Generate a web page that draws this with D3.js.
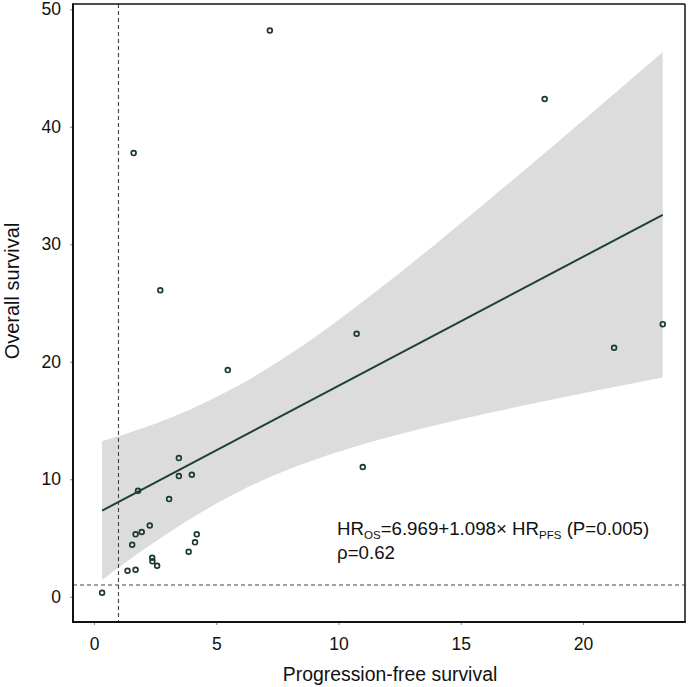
<!DOCTYPE html>
<html>
<head>
<meta charset="utf-8">
<script src="https://cdn.jsdelivr.net/npm/d3@7"></script>
<style>
  html, body { margin: 0; padding: 0; background: #fff; }
  svg { display: block; font-family: "Liberation Sans", Arial, Helvetica, sans-serif; }
</style>
</head>
<body>
<svg id="chart" width="691" height="687"></svg>
<script>
// ---- data ----
const pfs = [0.33, 1.37, 1.70, 1.56, 1.70, 1.95, 1.80, 2.28, 2.38, 2.39, 2.58, 3.07, 3.47, 3.47,
             4.00, 3.87, 4.13, 4.20, 1.62, 2.71, 5.47, 7.19, 10.74, 10.99, 18.43, 21.27, 23.26];
const os  = [0.34, 2.21, 2.30, 4.43, 5.31, 5.51, 9.02, 6.06, 3.32, 3.01, 2.64, 8.31, 11.80, 10.27,
             10.38, 3.83, 4.63, 5.31, 37.76, 26.08, 19.29, 48.20, 22.38, 11.04, 42.36, 21.19, 23.20];

const fitX = [0.33, 23.26];
const fitY = [7.33, 32.51];

const bandX     = [0.33, 2, 4, 6, 8, 10, 12, 14, 16, 18, 20, 22, 23.26];
const bandUpper = [13.23, 14.36, 16.01, 18.09, 20.63, 23.56, 26.74, 30.07, 33.51, 37.00, 40.53, 44.10, 46.36];
const bandLower = [1.43, 3.98, 6.71, 9.03, 10.87, 12.34, 13.56, 14.61, 15.57, 16.46, 17.33, 18.16, 18.66];

const xTicks = [0, 5, 10, 15, 20];
const yTicks = [0, 10, 20, 30, 40, 50];
const refX = 1, refY = 1;

const xTitle = "Progression-free survival";
const yTitle = "Overall survival";

// ---- layout ----
const svg = d3.select("#chart");
const L = 73, R = 685, T = 4, B = 622;
const x = d3.scaleLinear().domain([-0.86, 24.17]).range([L, R]);
const y = d3.scaleLinear().domain([-2.15, 50.45]).range([B, T]);

// band
const bandData = bandX.map((v, i) => ({x: v, lo: bandLower[i], hi: bandUpper[i]}));
svg.append("path")
  .datum(bandData)
  .attr("fill", "#dcdcdc")
  .attr("d", d3.area().curve(d3.curveMonotoneX)
    .x(d => x(d.x)).y0(d => y(d.lo)).y1(d => y(d.hi)));

// reference dashed lines
svg.append("line")
  .attr("x1", x(refX)).attr("x2", x(refX)).attr("y1", T).attr("y2", B)
  .attr("stroke", "#444").attr("stroke-width", 1.1).attr("stroke-dasharray", "4,3");
svg.append("line")
  .attr("x1", L).attr("x2", R).attr("y1", y(refY)).attr("y2", y(refY))
  .attr("stroke", "#444").attr("stroke-width", 1.1).attr("stroke-dasharray", "4,3");

// fit line
svg.append("path")
  .datum(fitX.map((v, i) => [v, fitY[i]]))
  .attr("fill", "none").attr("stroke", "#1f4038").attr("stroke-width", 2)
  .attr("d", d3.line().x(d => x(d[0])).y(d => y(d[1])));

// points
svg.append("g").selectAll("circle")
  .data(pfs.map((v, i) => [v, os[i]]))
  .join("circle")
  .attr("cx", d => x(d[0])).attr("cy", d => y(d[1]))
  .attr("r", 2.4)
  .attr("fill", "none").attr("stroke", "#1c3a35").attr("stroke-width", 1.7);

// axes
const gx = svg.append("g").attr("transform", `translate(0,${B})`)
  .call(d3.axisBottom(x).tickValues(xTicks).tickSize(3).tickPadding(13).tickFormat(d3.format("d")));
const gy = svg.append("g").attr("transform", `translate(${L},0)`)
  .call(d3.axisLeft(y).tickValues(yTicks).tickSize(3).tickPadding(9).tickFormat(d3.format("d")));
[gx, gy].forEach(g => {
  g.select(".domain").remove();
  g.selectAll(".tick line").attr("stroke", "#888").attr("stroke-width", 1);
  g.selectAll(".tick text").attr("fill", "#111").style("font-size", "17.5px")
    .style("font-family", "'Liberation Sans', Arial, Helvetica, sans-serif");
});

// frame
svg.append("line").attr("x1", L).attr("x2", R).attr("y1", T).attr("y2", T)
  .attr("stroke", "#111").attr("stroke-width", 1.5);
svg.append("line").attr("x1", R).attr("x2", R).attr("y1", T).attr("y2", B)
  .attr("stroke", "#111").attr("stroke-width", 1.5);
svg.append("line").attr("x1", L).attr("x2", L).attr("y1", T - 0.75).attr("y2", B + 1)
  .attr("stroke", "#111").attr("stroke-width", 2);
svg.append("line").attr("x1", L - 1).attr("x2", R + 0.75).attr("y1", B).attr("y2", B)
  .attr("stroke", "#111").attr("stroke-width", 2);

// titles
svg.append("text")
  .attr("x", 390).attr("y", 681)
  .attr("text-anchor", "middle").attr("fill", "#111")
  .style("font-size", "19.4px").text(xTitle);
svg.append("text")
  .attr("transform", `translate(19,291) rotate(-90)`)
  .attr("text-anchor", "middle").attr("fill", "#111")
  .style("font-size", "20px").text(yTitle);

// annotation
const ann = svg.append("text").attr("x", 337).attr("y", 535)
  .attr("fill", "#111").style("font-size", "18.7px");
ann.append("tspan").text("HR");
ann.append("tspan").attr("dy", 4).style("font-size", "11.5px").text("OS");
ann.append("tspan").attr("dy", -4).text("=6.969+1.098× HR");
ann.append("tspan").attr("dy", 4).style("font-size", "11.5px").text("PFS");
ann.append("tspan").attr("dy", -4).text(" (P=0.005)");

svg.append("text").attr("x", 337).attr("y", 559)
  .attr("fill", "#111").style("font-size", "18.7px").text("ρ=0.62");
</script>
</body>
</html>
